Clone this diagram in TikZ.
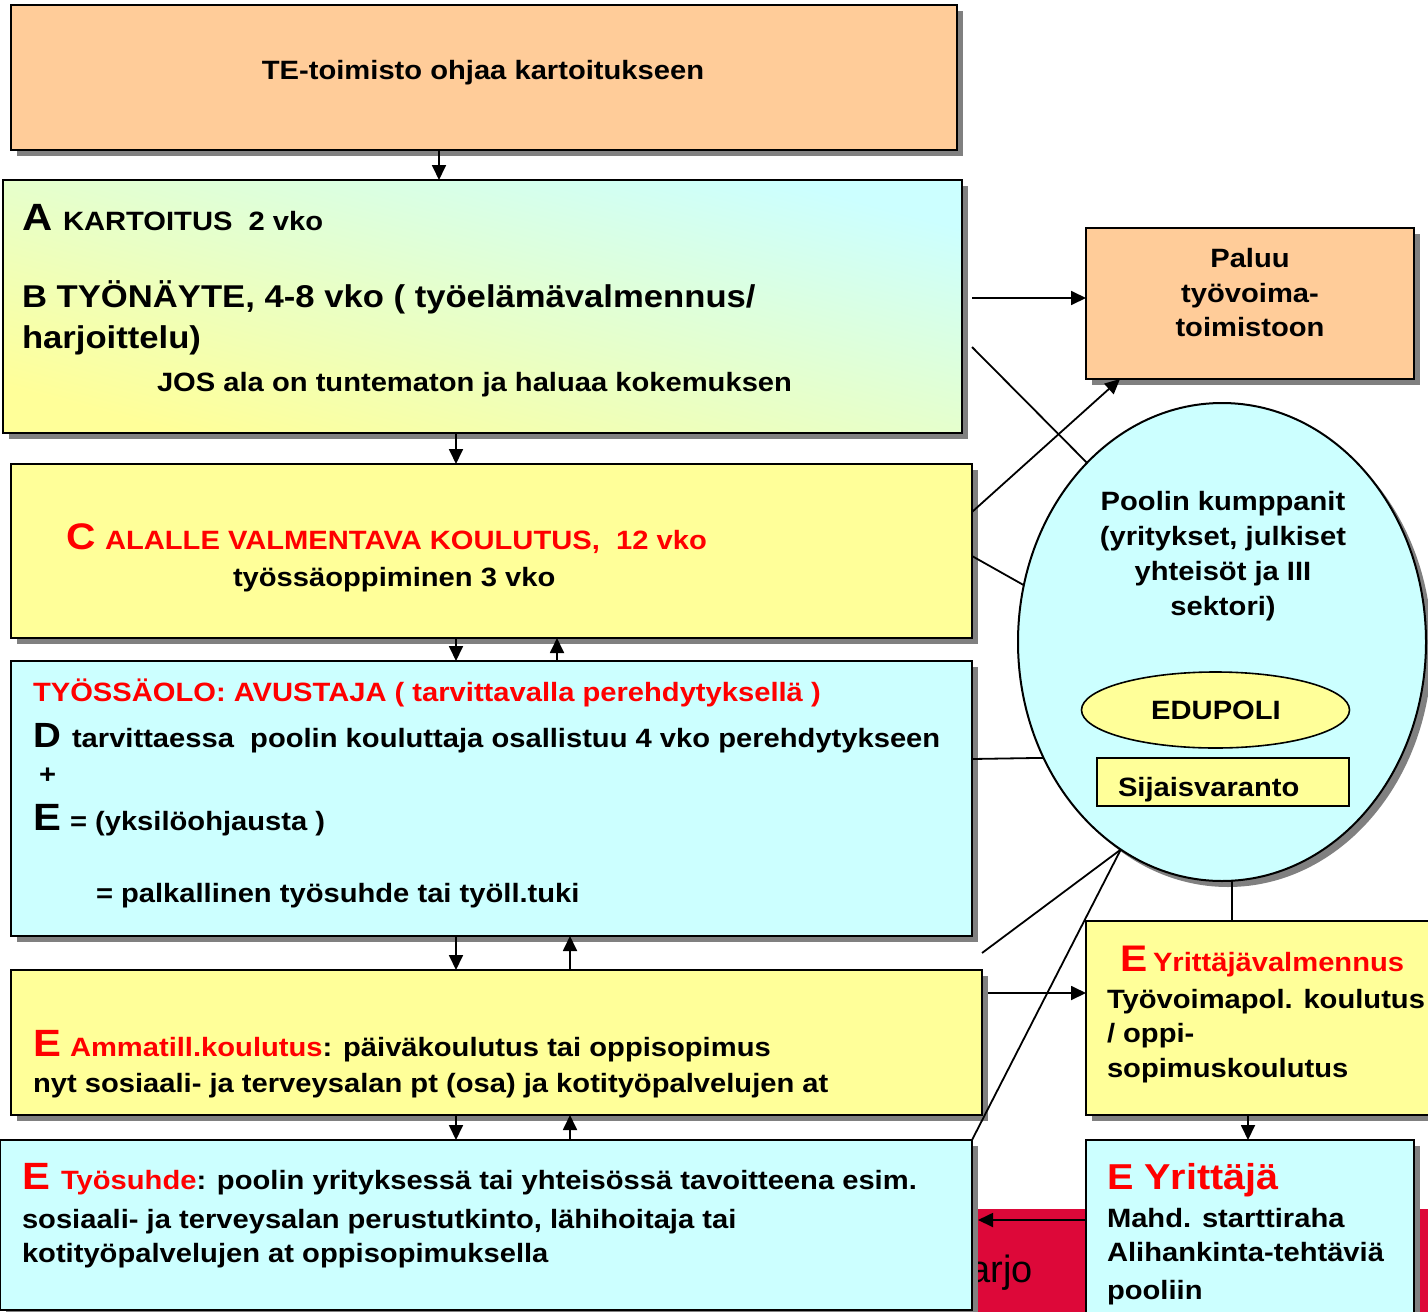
\documentclass[tikz,border=0pt]{standalone}
\usepackage{fontspec}
\setmainfont{Liberation Sans}[FakeStretch=1.1]
\newfontfamily\arjofont{Liberation Sans}
\usetikzlibrary{arrows.meta,shadows,shapes.geometric,calc}
\definecolor{peach}{HTML}{FFCC99}
\definecolor{lyellow}{HTML}{FFFF99}
\definecolor{lcyan}{HTML}{CCFFFF}
\definecolor{txtred}{HTML}{FF0000}
\definecolor{crimson}{HTML}{DD0839}
\definecolor{shadowgray}{HTML}{808080}
\newcommand\myfs[1]{\fontsize{#1}{#1}\selectfont}
\begin{document}
\begin{tikzpicture}[x=1pt,y=-1pt,
  sh/.style={drop shadow={shadow xshift=6pt,shadow yshift=-6pt,fill=shadowgray,opacity=1}},
  box/.style={draw=black,line width=2pt,inner sep=0pt,outer sep=0pt,anchor=north west,sh},
  tl/.style={inner sep=0pt,outer sep=0pt,anchor=base west,font=\bfseries\myfs{26.5}},
  tc/.style={tl,anchor=base},
  big/.style={tl,font=\bfseries\myfs{38}},
  arr/.style={line width=1.8pt,-{Triangle[length=15pt,width=14pt]}},
  ln/.style={line width=1.8pt}]
\useasboundingbox (0,0) rectangle (1428,1312);

% background red band with partial text
\fill[crimson] (960,1209) rectangle (1440,1320);
\node[inner sep=0pt,anchor=base east,font=\arjofont\myfs{38}] (arjo) at (1033,1282) {arjo};

% boxes
\node[box,fill=peach,minimum width=946pt,minimum height=145pt] (te) at (11,5) {};
\node[box,top color=lcyan,bottom color=lyellow,shading angle=-15,minimum width=959pt,minimum height=253pt] (ab) at (3,180) {};
\node[box,fill=lyellow,minimum width=961pt,minimum height=174pt] (cc) at (11,464) {};
\node[box,fill=lcyan,minimum width=961pt,minimum height=275pt] (ty) at (11,661) {};
\node[box,fill=lyellow,minimum width=971pt,minimum height=145pt] (am) at (11,970) {};
\node[box,fill=lcyan,minimum width=972pt,minimum height=170pt] (ts) at (0,1140) {};
\node[box,fill=peach,minimum width=328pt,minimum height=151pt] (pal) at (1086,228) {};
\node[box,fill=lyellow,minimum width=360pt,minimum height=194pt] (yv) at (1086,921) {};
\node[box,fill=lcyan,minimum width=328pt,minimum height=190pt] (ey) at (1086,1140) {};
\node[draw=black,line width=2pt,ellipse,fill=lcyan,inner sep=0pt,outer sep=0pt,minimum width=408pt,minimum height=478pt,sh] (pool) at (1222,642) {};
\node[draw=black,line width=1.6pt,ellipse,fill=lyellow,inner sep=0pt,outer sep=0pt,minimum width=268pt,minimum height=76pt] (edu) at (1215.5,710) {};
\node[draw=black,line width=1.6pt,fill=lyellow,inner sep=0pt,outer sep=0pt,anchor=north west,minimum width=252pt,minimum height=48pt] (sij) at (1097,758) {};

% texts
\node[tc] (teT) at (483,79) {TE-toimisto ohjaa kartoitukseen};

\node[big] (abA) at (22,230) {A};
\node[tl] (abA2) at (63,230) {KARTOITUS\ \ 2 vko};
\node[tl,font=\bfseries\myfs{31.5}] (abB1) at (22,307) {B TYÖNÄYTE, 4-8 vko ( työelämävalmennus/};
\node[tl,font=\bfseries\myfs{31.5}] (abB2) at (22,348) {harjoittelu)};
\node[tl] (abJ) at (157,391) {JOS ala on tuntematon ja haluaa kokemuksen};

\node[big,font=\bfseries\myfs{37},text=txtred] (ccC) at (66,549) {C};
\node[tl,text=txtred] (ccC2) at (105,549) {ALALLE VALMENTAVA KOULUTUS,\ \ 12 vko};
\node[tl] (ccC3) at (233,586) {työssäoppiminen 3 vko};

\node[tl,text=txtred] (tyT) at (33,701) {TYÖSSÄOLO: AVUSTAJA ( tarvittavalla perehdytyksellä )};
\node[big,font=\bfseries\myfs{35}] (tyD) at (33,747) {D};
\node[tl] (tyD2) at (72,747) {tarvittaessa\ \ poolin kouluttaja osallistuu 4 vko perehdytykseen};
\node[tl] (tyP) at (39,783) {+};
\node[big] (tyE) at (33,830) {E};
\node[tl] (tyE2) at (70,830) {= (yksilöohjausta )};
\node[tl] (tyPal) at (96,902) {= palkallinen työsuhde tai työll.tuki};

\node[big,text=txtred] (amE) at (33,1056) {E};
\node[tl] (amT) at (70,1056) {\textcolor{txtred}{Ammatill.koulutus}: päiväkoulutus tai oppisopimus};
\node[tl] (amT2) at (33,1092) {nyt sosiaali- ja terveysalan pt (osa) ja kotityöpalvelujen at};

\node[big,text=txtred] (tsE) at (22,1189) {E};
\node[tl] (tsT1) at (61,1189) {\textcolor{txtred}{Työsuhde}: poolin yrityksessä tai yhteisössä tavoitteena esim.};
\node[tl] (tsT2) at (22,1228) {sosiaali- ja terveysalan perustutkinto, lähihoitaja tai};
\node[tl] (tsT3) at (22,1262) {kotityöpalvelujen at oppisopimuksella};

\node[tc] (palT1) at (1250,267) {Paluu};
\node[tc] (palT2) at (1250,302) {työvoima-};
\node[tc] (palT3) at (1250,336) {toimistoon};

\node[tc] (poT1) at (1223,510) {Poolin kumppanit};
\node[tc] (poT2) at (1223,545) {(yritykset, julkiset};
\node[tc] (poT3) at (1223,580) {yhteisöt ja III};
\node[tc] (poT4) at (1223,615) {sektori)};
\node[tc] (eduT) at (1216,719) {EDUPOLI};
\node[tl] (sijT) at (1118,796) {Sijaisvaranto};

\node[big,font=\bfseries\myfs{37},text=txtred] (yvE) at (1120,971) {E};
\node[tl,text=txtred] (yvT) at (1153,971) {Yrittäjävalmennus};
\node[tl] (yvT2) at (1107,1008) {Työvoimapol. koulutus};
\node[tl] (yvT3) at (1107,1042) {/ oppi-};
\node[tl] (yvT4) at (1107,1077) {sopimuskoulutus};

\node[tl,font=\bfseries\myfs{36},text=txtred] (eyT) at (1107,1189) {E Yrittäjä};
\node[tl] (eyT2) at (1107,1227) {Mahd. starttiraha};
\node[tl] (eyT3) at (1107,1261) {Alihankinta-tehtäviä};
\node[tl] (eyT4) at (1107,1299) {pooliin};

% connectors in the left column
\coordinate (x439) at (439,0);
\coordinate (x456) at (456,0);
\coordinate (x557) at (557,0);
\coordinate (x570) at (570,0);
\draw[arr] (te.south -| x439) -- (ab.north -| x439);
\draw[arr] (ab.south -| x456) -- (cc.north -| x456);
\draw[arr] (cc.south -| x456) -- (ty.north -| x456);
\draw[arr] (ty.north -| x557) -- (cc.south -| x557);
\draw[arr] (ty.south -| x456) -- (am.north -| x456);
\draw[arr] (am.north -| x570) -- (ty.south -| x570);
\draw[arr] (am.south -| x456) -- (ts.north -| x456);
\draw[arr] (ts.north -| x570) -- (am.south -| x570);

% connectors on the right
\coordinate (s1) at (972,298);
\draw[arr] (s1) -- (pal.west |- s1);
\coordinate (s2) at (972,347);
\draw[ln] (s2) -- (pool.127);
\coordinate (s3) at (972,512);
\coordinate (p3) at (1120,0);
\draw[arr] (s3) -- (pal.south -| p3);
\coordinate (s4) at (972,556);
\draw[ln] (s4) -- (pool.164);
\coordinate (s5) at (972,759);
\draw[ln] (s5) -- (pool.213);
\coordinate (s6) at (982,953);
\draw[ln] (s6) -- (pool.244);
\draw[ln] (ts.north east) -- (pool.244);
\coordinate (x1232) at (1232,0);
\draw[ln] (pool.south -| x1232) -- (yv.north -| x1232);
\coordinate (s7) at (988,993);
\draw[arr] (s7) -- (yv.west |- s7);
\coordinate (x1248) at (1248,0);
\draw[arr] (yv.south -| x1248) -- (ey.north -| x1248);
\coordinate (e8) at (978,1220);
\draw[arr] (ey.west |- e8) -- (e8);
\end{tikzpicture}
\end{document}
